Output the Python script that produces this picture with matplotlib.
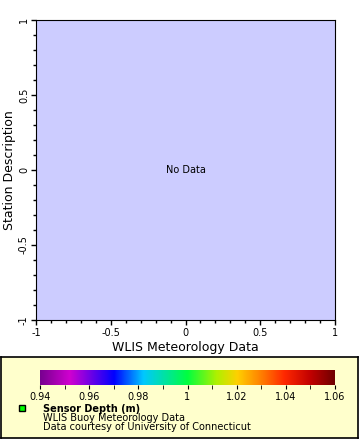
import numpy as np
import matplotlib.pyplot as plt
from matplotlib.colors import LinearSegmentedColormap
from matplotlib.ticker import MultipleLocator

x_ticks = [-1, -0.5, 0, 0.5, 1]
x_labels = ["-1", "-0.5", "0", "0.5", "1"]
y_ticks = [-1, -0.5, 0, 0.5, 1]
y_labels = ["-1", "-0.5", "0", "0.5", "1"]
cbar_ticks = [0.94, 0.96, 0.98, 1.0, 1.02, 1.04, 1.06]
cbar_labels = ["0.94", "0.96", "0.98", "1", "1.02", "1.04", "1.06"]
cmap_stops = [0.0, 0.1, 0.25, 0.35, 0.5, 0.6, 0.67, 0.75, 0.83, 0.92, 1.0]
cmap_colors = ["#780090", "#d000d0", "#0000ff", "#00c8ff", "#00ff40", "#b0f000",
               "#ffd000", "#ff8000", "#ff2800", "#c00000", "#700000"]

plt.rcParams['font.family'] = 'DejaVu Sans'
plt.rcParams['font.size'] = 7

fig = plt.figure(figsize=(3.6, 4.4), dpi=100)

# main plot
ax = fig.add_axes([36/360, 1 - 320/440, 299/360, 300/440])
ax.set_facecolor('#ccccff')
ax.set_xlim(-1, 1)
ax.set_ylim(-1, 1)
ax.set_xticks(x_ticks)
ax.set_xticklabels(x_labels)
ax.set_yticks(y_ticks)
ax.set_yticklabels(y_labels, rotation=90, va='center')
ax.xaxis.set_minor_locator(MultipleLocator(0.1))
ax.yaxis.set_minor_locator(MultipleLocator(0.1))
ax.tick_params(which='major', length=3.6, width=1, pad=2.5)
ax.tick_params(which='minor', length=2, width=1)
ax.tick_params(axis='y', which='major', pad=1.5)
ax.set_xlabel("WLIS Meteorology Data", fontsize=9, labelpad=2)
ax.set_ylabel("Station Description", fontsize=9)
ax.yaxis.set_label_coords(-20/299, 0.5)
ax.text(0, 0, "No Data", ha='center', va='center', fontsize=7)

# bottom legend panel
panel = fig.add_axes([1/360, 1 - 438/440, 357/360, 81/440])
panel.set_facecolor('#ffffcc')
panel.set_xticks([])
panel.set_yticks([])
for s in panel.spines.values():
    s.set_linewidth(1.2)

cmap = LinearSegmentedColormap.from_list('depth', list(zip(cmap_stops, cmap_colors)))
cax = fig.add_axes([40/360, 1 - 385/440, 295/360, 15/440])
grad = np.linspace(0.94, 1.06, 256).reshape(1, -1)
cax.imshow(grad, aspect='auto', cmap=cmap, extent=[0.94, 1.06, 0, 1])
cax.set_xlim(0.94, 1.06)
cax.set_yticks([])
cax.set_xticks(cbar_ticks)
cax.set_xticklabels(cbar_labels)
cax.xaxis.set_minor_locator(MultipleLocator(0.01))
cax.tick_params(which='both', length=3, pad=2)
for s in cax.spines.values():
    s.set_visible(False)

panel.plot([21/357], [1 - (408 - 357)/81], marker='s', markersize=5,
           markerfacecolor='#00ff00', markeredgecolor='black', transform=panel.transAxes)
panel.set_xlim(0, 1)
panel.set_ylim(0, 1)
fig.text(43/360, 1 - 409/440, "Sensor Depth (m)", fontsize=7, fontweight='bold', va='center')
fig.text(43/360, 1 - 418/440, "WLIS Buoy Meteorology Data", fontsize=7, va='center')
fig.text(43/360, 1 - 427/440, "Data courtesy of University of Connecticut", fontsize=7, va='center')

fig.savefig("out.png", dpi=100)
